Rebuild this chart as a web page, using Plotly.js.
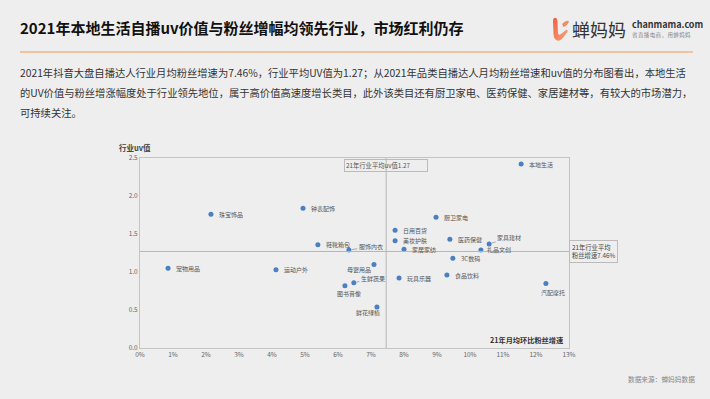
<!DOCTYPE html>
<html><head><meta charset="utf-8">
<script src="https://cdn.plot.ly/plotly-3.0.1.min.js"></script>
<style>
body{margin:0;background:#eeeeee;font-family:"Noto Sans CJK SC",sans-serif;}
#wrap{position:relative;width:710px;height:399px;overflow:hidden;background:#eeeeee}
#chart{position:absolute;left:0;top:0;width:710px;height:399px}
.abs{position:absolute;white-space:nowrap}
</style></head><body>
<div id="wrap">
<div id="chart"></div>
<div class="abs" style="left:20px;top:17px;font-size:15px;font-weight:bold;color:#111;line-height:22px">2021年本地生活自播uv价值与粉丝增幅均领先行业，市场红利仍存</div>
<div class="abs" style="left:20px;top:51px;width:673px;height:1.5px;background:#f3c3a0"></div>
<div class="abs" style="left:20px;top:63px;font-size:10.3px;line-height:20px;color:#333">2021年抖音大盘自播达人行业月均粉丝增速为7.46%，行业平均UV值为1.27；从2021年品类自播达人月均粉丝增速和uv值的分布图看出，本地生活<br>的UV价值与粉丝增涨幅度处于行业领先地位，属于高价值高速度增长类目，此外该类目还有厨卫家电、医药保健、家居建材等，有较大的市场潜力，<br>可持续关注。</div>
<svg class="abs" style="left:551px;top:15px" width="20" height="28" viewBox="0 0 20 28">
<defs><linearGradient id="g" x1="0" y1="0" x2="1" y2="1"><stop offset="0" stop-color="#f0603f"/><stop offset="1" stop-color="#f6a57c"/></linearGradient></defs>
<path d="M3 3 Q6 2 6.5 6 L7 18 Q7.5 21 10 19 L15 15 Q17 14 16.5 17 L11 24 Q8 27 5 25 Q2.5 23 2.5 19 L2 6 Q2 3.5 3 3 Z" fill="url(#g)"/>
<path d="M11 9 Q15 5 18 6 Q17 10 12.5 12 Z" fill="#f28a62"/>
</svg>
<div class="abs" style="left:572px;top:17px;font-size:18px;color:#333;line-height:24px">蝉妈妈</div>
<div class="abs" style="left:632px;top:19px;font-size:9px;font-weight:bold;color:#333;line-height:11px">chanmama.com</div>
<div class="abs" style="left:632px;top:32px;font-size:5.5px;color:#888;line-height:7px;letter-spacing:0.4px">省直播电商，用蝉妈妈</div>
<div class="abs" style="left:628px;top:374px;font-size:6.7px;color:#888;line-height:10px">数据来源：蝉妈妈数据</div>
</div>
<script>
const categories = ['珠宝饰品','钟表配饰','宠物用品','运动户外','鞋靴箱包','服饰内衣','母婴用品','生鲜蔬果','图书音像','鲜花绿植','玩具乐器','日用百货','美妆护肤','家居家纺','厨卫家电','医药保健','家具建材','礼品文创','3C数码','食品饮料','汽配摩托','本地生活'];
const fanGrowth = [0.0215,0.0494,0.0085,0.0412,0.0539,0.0633,0.0709,0.0648,0.0621,0.0718,0.0785,0.0773,0.0773,0.0800,0.0897,0.0939,0.1058,0.1033,0.0948,0.0930,0.1230,0.1155];
const uvValue = [1.76,1.84,1.05,1.03,1.36,1.29,1.10,0.86,0.82,0.54,0.92,1.55,1.41,1.30,1.72,1.43,1.37,1.29,1.18,0.96,0.85,2.42];
const avgGrowth = 0.0746;
const avgUv = 1.27;
const xTicks = [0,0.01,0.02,0.03,0.04,0.05,0.06,0.07,0.08,0.09,0.10,0.11,0.12,0.13];
const yTicks = [0,0.5,1.0,1.5,2.0,2.5];

// label placement (style only)
const place = {
 '母婴用品':{xanchor:'right',xshift:-1,yshift:-5},
 '图书音像':{xanchor:'center',xshift:4,yshift:-8},
 '鲜花绿植':{xanchor:'center',xshift:-9,yshift:-6},
 '汽配摩托':{xanchor:'center',xshift:7,yshift:-9},
 '服饰内衣':{leader:true,ax:22,ay:-3},
 '生鲜蔬果':{leader:true,ax:19,ay:-4},
 '家具建材':{leader:true,ax:20,ay:-6},
 '礼品文创':{xanchor:'left',xshift:4,yshift:0}
};
const lblFont = {family:'Noto Sans CJK SC',size:6,color:'#555'};
const ann = categories.map((c,i)=>{
  const p = place[c] || {xanchor:'left',xshift:6,yshift:0};
  if (p.leader) {
    return {x:fanGrowth[i],y:uvValue[i],xref:'x',yref:'y',text:c,showarrow:true,arrowhead:0,arrowwidth:0.7,arrowcolor:'#888',ax:p.ax,ay:p.ay,standoff:3,font:lblFont};
  }
  return {x:fanGrowth[i],y:uvValue[i],xref:'x',yref:'y',text:c,showarrow:false,xanchor:p.xanchor,yanchor:'middle',xshift:p.xshift,yshift:p.yshift,font:lblFont};
});
ann.push({xref:'paper',yref:'paper',x:-0.012,y:1.015,xanchor:'center',yanchor:'bottom',text:'<b>行业uv值</b>',showarrow:false,font:{family:'Noto Sans CJK SC',size:7.5,color:'#444'}});
ann.push({xref:'paper',yref:'paper',x:0.99,y:0.005,xanchor:'right',yanchor:'bottom',text:'<b>21年月均环比粉丝增速</b>',showarrow:false,font:{family:'Noto Sans CJK SC',size:7.2,color:'#333'}});
ann.push({xref:'x',yref:'paper',x:avgGrowth,y:0.995,xanchor:'center',yanchor:'top',text:'21年行业平均uv值'+avgUv.toFixed(2),showarrow:false,align:'left',width:80,bordercolor:'#bbb',borderwidth:1,borderpad:1,font:{family:'Noto Sans CJK SC',size:6.3,color:'#555'}});
ann.push({xref:'paper',yref:'y',x:1,y:avgUv,xanchor:'left',yanchor:'middle',text:'21年行业平均<br>粉丝增速'+(avgGrowth*100).toFixed(2)+'%',showarrow:false,align:'left',bordercolor:'#bbb',borderwidth:1,borderpad:2,font:{family:'Noto Sans CJK SC',size:6.3,color:'#444'}});

const trace = {x:fanGrowth,y:uvValue,mode:'markers',type:'scatter',marker:{size:5,color:'#4a7fc0'},hoverinfo:'none',text:categories};
const layout = {
 width:710,height:399,margin:{l:140,r:141,t:158,b:51},
 paper_bgcolor:'rgba(0,0,0,0)',plot_bgcolor:'rgba(0,0,0,0)',showlegend:false,
 xaxis:{range:[0,0.13],tickvals:xTicks,tickformat:'.0%',showgrid:false,zeroline:false,showline:true,mirror:true,linecolor:'#c4c4c4',linewidth:1,ticks:'',tickfont:{family:'Noto Sans CJK SC',size:6.5,color:'#666'}},
 yaxis:{range:[0,2.5],tickvals:yTicks,tickformat:'.1f',showgrid:false,zeroline:false,showline:true,mirror:true,linecolor:'#c4c4c4',linewidth:1,ticks:'',tickfont:{family:'Noto Sans CJK SC',size:6.5,color:'#666'}},
 shapes:[
  {type:'line',xref:'x',yref:'paper',x0:avgGrowth,x1:avgGrowth,y0:0,y1:1,line:{color:'#b5b5b5',width:1}},
  {type:'line',xref:'paper',yref:'y',x0:0,x1:1,y0:avgUv,y1:avgUv,line:{color:'#b5b5b5',width:1}}
 ],
 annotations:ann
};
Plotly.newPlot('chart',[trace],layout,{displayModeBar:false,staticPlot:true});
</script>
</body></html>
